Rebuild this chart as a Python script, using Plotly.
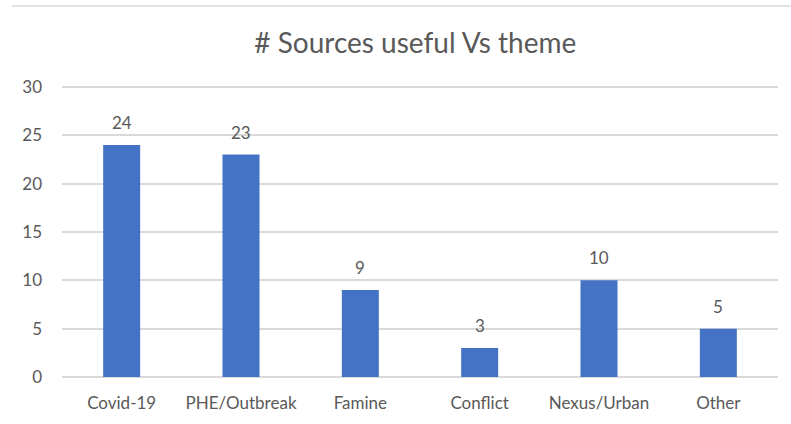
import plotly.graph_objects as go

# Number of useful sources found for each theme
themes = ["Covid-19", "PHE/Outbreak", "Famine", "Conflict", "Nexus/Urban", "Other"]
source_counts = [24, 23, 9, 3, 10, 5]
y_ticks = [0, 5, 10, 15, 20, 25, 30]

text_color = "#595959"
font_family = "Lato, 'Open Sans', sans-serif"

fig = go.Figure(
    go.Bar(
        x=themes,
        y=source_counts,
        marker=dict(color="#4472C4", line=dict(width=0)),
        hoverinfo="x+y",
    )
)

# Value labels sitting above each bar
for theme, count in zip(themes, source_counts):
    fig.add_annotation(
        x=theme, y=count, text=str(count), showarrow=False,
        yanchor="bottom", yshift=10,
        font=dict(size=17, color=text_color, family=font_family),
    )

plot_h = 424 - 84 - 47

fig.update_layout(
    width=791,
    height=424,
    margin=dict(l=62, r=13, t=84, b=47),
    paper_bgcolor="white",
    plot_bgcolor="white",
    bargap=0.69,
    showlegend=False,
    title=dict(
        text="# Sources useful Vs theme",
        x=0.525,
        xanchor="center",
        y=1 - 43 / 424,
        yanchor="middle",
        font=dict(size=28, color=text_color, family=font_family),
    ),
    xaxis=dict(
        showgrid=False,
        showline=False,
        ticks="",
        ticklabelstandoff=14,
        tickfont=dict(size=17, color=text_color, family=font_family),
    ),
    yaxis=dict(
        range=[0, 30.3],
        tickvals=y_ticks,
        showgrid=True,
        gridcolor="#D9D9D9",
        gridwidth=1.5,
        zeroline=True,
        zerolinecolor="#D9D9D9",
        zerolinewidth=1.5,
        showline=False,
        ticks="",
        ticklabelstandoff=19,
        tickfont=dict(size=17, color=text_color, family=font_family),
    ),
    shapes=[
        dict(
            type="line", xref="paper", yref="paper",
            x0=-50 / 716, x1=1.02,
            y0=(377 - 6) / plot_h, y1=(377 - 6) / plot_h,
            line=dict(color="#D9D9D9", width=1.5),
        )
    ],
)

fig.write_html("out.html")
